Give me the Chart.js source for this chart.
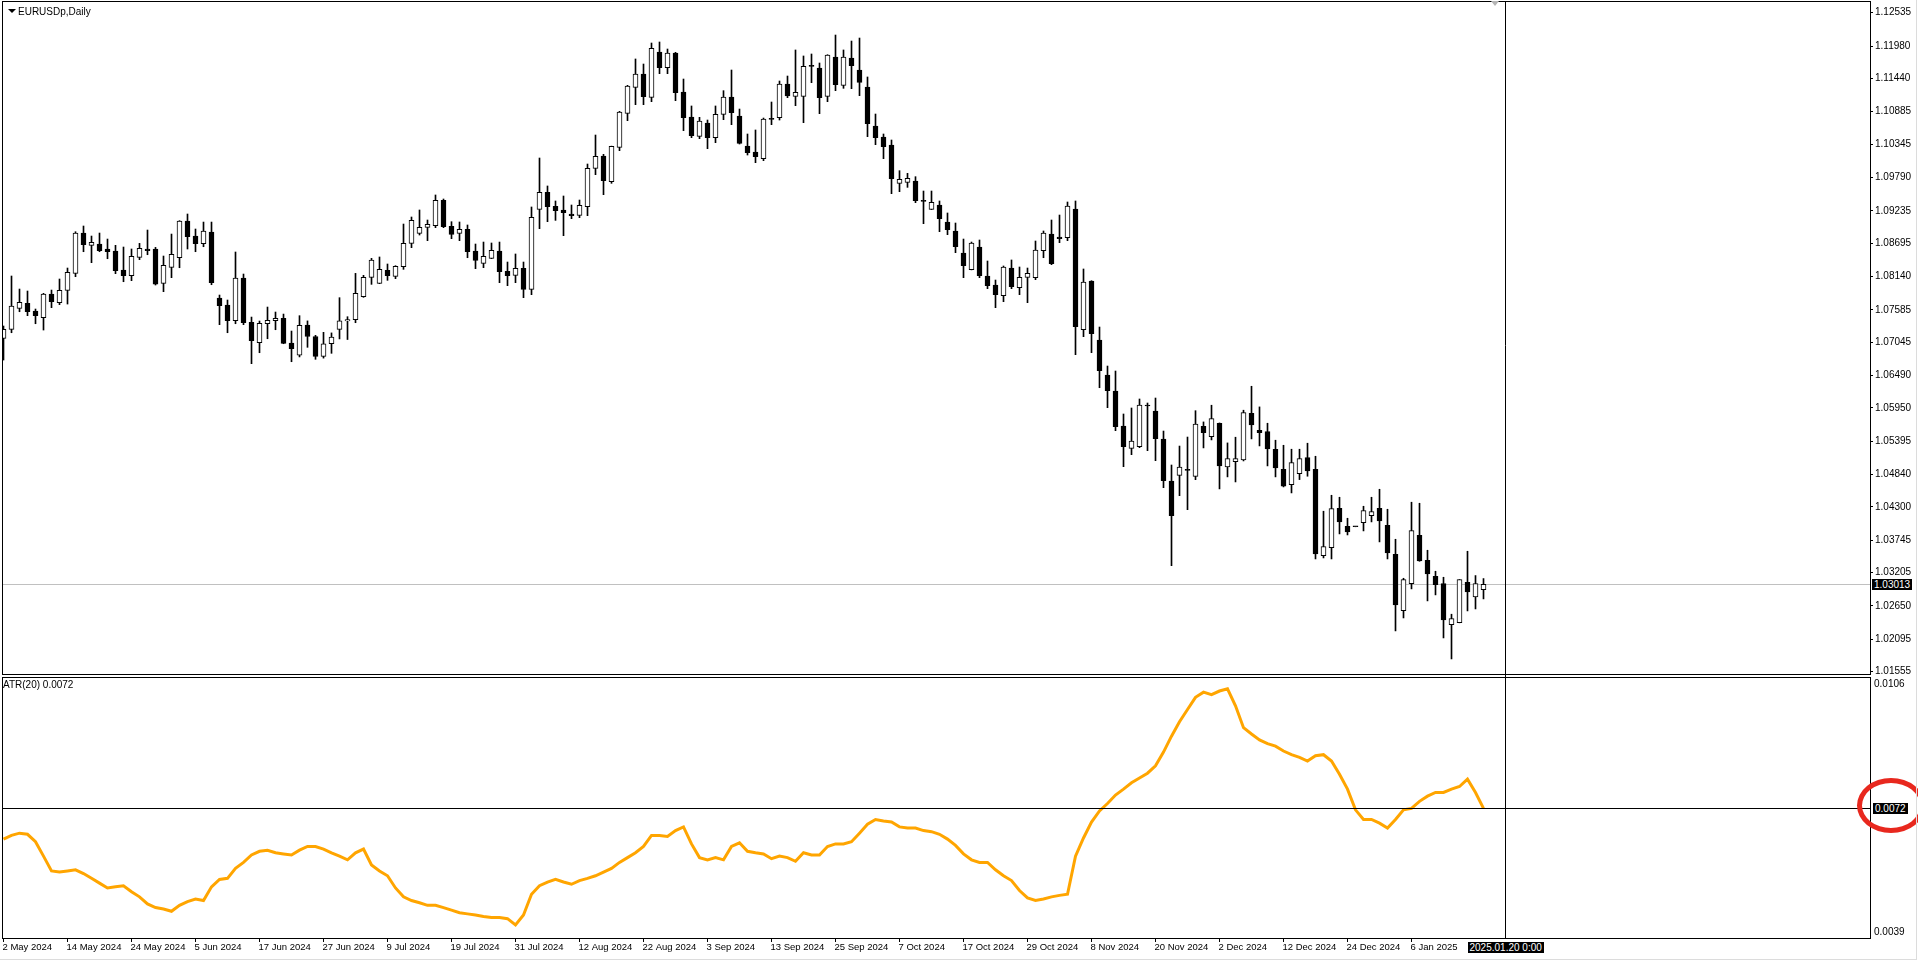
<!DOCTYPE html>
<html><head><meta charset="utf-8">
<script src="https://cdn.jsdelivr.net/npm/chart.js@4.4.1/dist/chart.umd.min.js"></script>
<style>
html,body{margin:0;padding:0;background:#fff;width:1918px;height:962px;overflow:hidden;position:relative;font-family:"Liberation Sans",Arial,sans-serif;}
canvas{position:absolute;left:0;}
#c1{top:0;}
#c2{top:677px;}
.frame{position:absolute;border:1px solid #000;box-sizing:border-box;pointer-events:none;}
.lbl{position:absolute;font-size:10px;line-height:12px;color:#000;white-space:nowrap;}
.box{position:absolute;background:#000;color:#fff;font-size:10px;line-height:11px;padding:0 2px;white-space:nowrap;}
</style></head><body>
<canvas id="c1" width="1918" height="690"></canvas>
<canvas id="c2" width="1918" height="285"></canvas>
<div class="frame" style="left:2px;top:1px;width:1869px;height:674px"></div>
<div class="frame" style="left:2px;top:677px;width:1869px;height:262px"></div>
<div style="position:absolute;left:8px;top:9px;width:0;height:0;border-left:4px solid transparent;border-right:4px solid transparent;border-top:4px solid #000"></div>
<div class="lbl" id="title" style="left:18px;top:6px"></div>
<div class="lbl" id="atrTitle" style="left:3px;top:679px"></div>
<div style="position:absolute;left:1491px;top:1px;width:0;height:0;border-left:4px solid transparent;border-right:4px solid transparent;border-top:5px solid #b4b4b4"></div>
<div id="plbl" class="box" style="left:1872px;top:578px"></div>
<div id="albl" class="box" style="left:1873px;top:802px"></div>
<div id="dlbl" class="box" style="left:1472px;top:942px"></div>
<div style="position:absolute;left:1857px;top:778px;width:68px;height:55px;border:5px solid #e8281e;border-radius:50%;box-sizing:border-box"></div>
<div style="position:absolute;left:1916px;top:0;width:1px;height:960px;background:#dcdcdc"></div>
<div style="position:absolute;left:0;top:959px;width:1917px;height:1px;background:#dcdcdc"></div>
<script>
const symbolTitle = "EURUSDp,Daily";
const atrName = "ATR(20)";
const priceTickLabels = ["1.12535","1.11980","1.11440","1.10885","1.10345","1.09790","1.09235","1.08695","1.08140","1.07585","1.07045","1.06490","1.05950","1.05395","1.04840","1.04300","1.03745","1.03205","1.02650","1.02095","1.01555"];
const atrTickLabels = ["0.0106","0.0039"];
const dateTickIdx = [0,8,16,24,32,40,48,56,64,72,80,88,96,104,112,120,128,136,144,152,160,168,176];
const dateLabels = ["2 May 2024","14 May 2024","24 May 2024","5 Jun 2024","17 Jun 2024","27 Jun 2024","9 Jul 2024","19 Jul 2024","31 Jul 2024","12 Aug 2024","22 Aug 2024","3 Sep 2024","13 Sep 2024","25 Sep 2024","7 Oct 2024","17 Oct 2024","29 Oct 2024","8 Nov 2024","20 Nov 2024","2 Dec 2024","12 Dec 2024","24 Dec 2024","6 Jan 2025"];
const crossDate = "2025.01.20 0:00";
const crossAtrLabel = "0.0072";
const crossAtrValue = 0.00726;
const crossIdx = 187.8;

const open = [1.07109,1.07259,1.07609,1.07692,1.07564,1.07453,1.07848,1.07703,1.07909,1.08192,
1.08864,1.08659,1.08681,1.08598,1.08564,1.08248,1.08153,1.08459,1.08598,1.08598,
1.08025,1.08292,1.08453,1.09064,1.08814,1.08686,1.08881,1.07781,1.07664,1.07403,
1.08114,1.07376,1.07037,1.07353,1.07403,1.07442,1.07031,1.06831,1.0733,1.0714,
1.0681,1.0702,1.0726,1.0740,1.0742,1.07804,1.08126,1.08026,1.08242,1.08142,
1.08303,1.08692,1.08859,1.08959,1.08987,1.09409,1.08975,1.08859,1.08926,1.08565,
1.08359,1.08442,1.08565,1.08226,1.08159,1.08276,1.07926,1.09259,1.09542,1.09309,
1.09248,1.09181,1.09159,1.09303,1.09942,1.10147,1.09720,1.10292,1.10858,1.11292,
1.11514,1.11125,1.11880,1.11619,1.11864,1.11214,1.10797,1.10475,1.10697,1.10453,
1.10842,1.11130,1.10814,1.10314,1.10214,1.10103,1.10758,1.10786,1.11347,1.11142,
1.11142,1.11641,1.11614,1.11142,1.11797,1.11325,1.11780,1.11580,1.11297,1.10647,
1.10464,1.10331,1.09692,1.09709,1.09731,1.09392,1.09259,1.09331,1.09048,1.08898,
1.08531,1.08253,1.08631,1.08148,1.07998,1.07820,1.08281,1.07954,1.08126,1.08120,
1.08570,1.08848,1.08798,1.08787,1.09264,1.07254,1.08065,1.07082,1.06498,1.06232,
1.05649,1.05277,1.05304,1.05982,1.05899,1.05432,1.04732,1.04827,1.04910,1.04810,
1.05645,1.05473,1.05695,1.04967,1.05056,1.05084,1.05862,1.05578,1.05556,1.05262,
1.04929,1.04673,1.04856,1.05123,1.04929,1.03490,1.03623,1.04279,1.03979,1.0397,
1.04040,1.04157,1.04279,1.03995,1.03512,1.02574,1.03023,1.03829,1.03412,1.03146,
1.03023,1.02340,1.02374,1.03046,1.02801,1.02924];
const high = [1.07315,1.08148,1.07931,1.07898,1.07598,1.07859,1.07914,1.08098,1.08281,1.08886,
1.08981,1.08814,1.08864,1.08764,1.08659,1.08631,1.08598,1.08692,1.08914,1.08625,
1.08481,1.08847,1.09070,1.09181,1.08931,1.09047,1.09047,1.07831,1.07748,1.08548,
1.08181,1.07464,1.07398,1.07631,1.07548,1.07514,1.07231,1.07487,1.0740,1.0716,
1.0721,1.0720,1.07787,1.0747,1.08192,1.08159,1.08442,1.08465,1.08348,1.08320,
1.09014,1.09131,1.09248,1.09081,1.09498,1.09431,1.09053,1.09048,1.08998,1.08681,
1.08714,1.08698,1.08714,1.08381,1.08515,1.08381,1.09298,1.10114,1.09648,1.09398,
1.09481,1.09331,1.09414,1.10014,1.10497,1.10175,1.10312,1.10892,1.11325,1.11764,
1.11680,1.12030,1.12047,1.11930,1.11875,1.11430,1.10981,1.10792,1.10747,1.10981,
1.11236,1.11580,1.10930,1.10514,1.10581,1.10780,1.11047,1.11397,1.11480,1.11914,
1.11814,1.11847,1.11697,1.11835,1.12163,1.11914,1.12063,1.12113,1.11464,1.10847,
1.10514,1.10414,1.09903,1.09859,1.09803,1.09564,1.09564,1.09398,1.09198,1.09031,
1.08764,1.08714,1.08748,1.08398,1.08081,1.08315,1.08415,1.08298,1.08281,1.08731,
1.08898,1.09081,1.09164,1.09381,1.09398,1.08265,1.08070,1.07298,1.06648,1.06565,
1.05849,1.05949,1.06099,1.06032,1.06115,1.05565,1.04999,1.05315,1.05465,1.05904,
1.05717,1.05995,1.05700,1.05367,1.05462,1.05912,1.06311,1.05967,1.05695,1.05412,
1.05328,1.05262,1.05262,1.05362,1.05145,1.04229,1.04495,1.04462,1.04112,1.0397,
1.04312,1.04462,1.04595,1.04262,1.03762,1.03112,1.04379,1.04362,1.03579,1.03229,
1.03129,1.02513,1.03090,1.03562,1.03157,1.03107];
const low = [1.06748,1.07203,1.07553,1.07487,1.07353,1.07248,1.07620,1.07670,1.07681,1.08137,
1.08553,1.08370,1.08553,1.08436,1.08187,1.08053,1.08070,1.08420,1.08503,1.07998,
1.07887,1.08120,1.08286,1.08598,1.08553,1.08636,1.08003,1.07337,1.07203,1.07353,
1.07337,1.06687,1.06870,1.07103,1.07253,1.07020,1.06720,1.06800,1.0696,1.0676,
1.0678,1.0686,1.0710,1.0709,1.0737,1.07793,1.08009,1.08020,1.08076,1.08104,
1.08259,1.08620,1.08831,1.08737,1.08953,1.08953,1.08770,1.08737,1.08453,1.08270,
1.08287,1.08437,1.08037,1.07987,1.08037,1.07787,1.07837,1.08937,1.09053,1.09075,
1.08820,1.09103,1.09120,1.09153,1.09836,1.09503,1.09692,1.10236,1.10736,1.11003,
1.11003,1.11053,1.11519,1.11519,1.11069,1.10570,1.10453,1.10436,1.10270,1.10370,
1.10753,1.10669,1.10347,1.10164,1.10036,1.10070,1.10669,1.10747,1.11119,1.10986,
1.10703,1.11369,1.10853,1.11053,1.11236,1.11275,1.11269,1.11153,1.10470,1.10336,
1.10103,1.09520,1.09553,1.09625,1.09370,1.09020,1.09255,1.08887,1.08837,1.08537,
1.08120,1.08250,1.08120,1.07937,1.07620,1.07720,1.07937,1.07837,1.07704,1.08087,
1.08453,1.08337,1.08703,1.08737,1.06837,1.07137,1.06871,1.06287,1.05954,1.05571,
1.04971,1.05171,1.05288,1.05238,1.05071,1.04621,1.03322,1.04488,1.04255,1.04755,
1.05284,1.05417,1.04601,1.04801,1.04717,1.05067,1.05434,1.05317,1.04984,1.04801,
1.04634,1.04534,1.04756,1.04812,1.03434,1.03451,1.03434,1.03851,1.03834,1.0397,
1.03901,1.04051,1.03718,1.03434,1.02235,1.02451,1.02935,1.03395,1.02735,1.02835,
1.02118,1.01768,1.02370,1.02568,1.02601,1.02768];
const close = [1.07259,1.07648,1.07709,1.07553,1.07487,1.07848,1.07720,1.07909,1.08209,1.08864,
1.08670,1.08709,1.08570,1.08553,1.08237,1.08153,1.08475,1.08609,1.08570,1.08014,
1.08325,1.08509,1.09064,1.08803,1.08686,1.08897,1.08037,1.07653,1.07403,1.08114,
1.07370,1.07070,1.07359,1.07409,1.07442,1.07026,1.06937,1.07326,1.0714,1.0681,
1.0702,1.0713,1.0740,1.0742,1.07859,1.08126,1.08415,1.08259,1.08153,1.08309,
1.08692,1.09075,1.08959,1.09009,1.09409,1.08970,1.08842,1.08926,1.08553,1.08409,
1.08476,1.08576,1.08220,1.08153,1.08276,1.07926,1.09125,1.09542,1.09303,1.09237,
1.09203,1.09153,1.09325,1.09942,1.10142,1.09736,1.10308,1.10881,1.11314,1.11514,
1.11136,1.11941,1.11619,1.11864,1.11203,1.10786,1.10486,1.10730,1.10453,1.10842,
1.11130,1.10869,1.10358,1.10203,1.10136,1.10764,1.10758,1.11347,1.11147,1.11208,
1.11641,1.11641,1.11119,1.11830,1.11336,1.11797,1.11652,1.11375,1.10686,1.10453,
1.10303,1.09770,1.09759,1.09775,1.09403,1.09392,1.09375,1.09103,1.08920,1.08637,
1.08320,1.08698,1.08153,1.07987,1.07837,1.08298,1.07970,1.08126,1.08192,1.08581,
1.08864,1.08353,1.08770,1.09314,1.07304,1.08048,1.07187,1.06571,1.06237,1.05638,
1.05304,1.05399,1.05999,1.05982,1.05438,1.04738,1.04155,1.04966,1.04910,1.05682,
1.05539,1.05773,1.04984,1.05106,1.05106,1.05873,1.05667,1.05539,1.05267,1.04951,
1.04645,1.05040,1.05106,1.04901,1.03518,1.03640,1.04273,1.04051,1.03884,1.0397,
1.04240,1.04223,1.04068,1.03534,1.02668,1.03090,1.03907,1.03401,1.03185,1.03007,
1.02418,1.02440,1.03090,1.02885,1.03023,1.03013];
const atr = [0.00641,0.00651,0.00657,0.00654,0.00634,0.00595,0.00555,0.00552,0.00555,0.00558,
0.00548,0.00535,0.00522,0.00509,0.00512,0.00515,0.00499,0.00485,0.00466,0.00456,
0.00452,0.00446,0.00462,0.00472,0.00479,0.00475,0.00512,0.00532,0.00535,0.00562,
0.00578,0.00598,0.00608,0.00611,0.00604,0.00601,0.00598,0.00611,0.00621,0.00621,
0.00614,0.00604,0.00595,0.00585,0.00604,0.00614,0.00571,0.00555,0.00542,0.00509,
0.00485,0.00475,0.00469,0.00462,0.00462,0.00456,0.00449,0.00442,0.00439,0.00436,
0.00432,0.00429,0.00429,0.00426,0.00409,0.00436,0.00492,0.00515,0.00525,0.00532,
0.00525,0.00519,0.00529,0.00535,0.00542,0.00552,0.00562,0.00578,0.00591,0.00604,
0.00621,0.00651,0.00651,0.00648,0.00664,0.00674,0.00628,0.00591,0.00585,0.00591,
0.00585,0.00621,0.00631,0.00608,0.00604,0.00601,0.00588,0.00595,0.00591,0.00581,
0.00604,0.00598,0.00598,0.00621,0.00628,0.00628,0.00634,0.00657,0.00681,0.00694,
0.00690,0.00687,0.00674,0.00671,0.00671,0.00664,0.00661,0.00654,0.00641,0.00624,
0.00601,0.00585,0.00578,0.00578,0.00558,0.00542,0.00529,0.00502,0.00482,0.00475,
0.00479,0.00485,0.00489,0.00492,0.00595,0.00644,0.00687,0.00717,0.00737,0.00760,
0.00776,0.00793,0.00806,0.00819,0.00839,0.00876,0.00919,0.00958,0.00991,0.01024,
0.01038,0.01031,0.01041,0.01047,0.01001,0.00942,0.00925,0.00909,0.00899,0.00892,
0.00879,0.00869,0.00862,0.00852,0.00866,0.00869,0.00852,0.00816,0.00776,0.00720,
0.00694,0.00694,0.00684,0.00671,0.00694,0.00720,0.00724,0.00743,0.00757,0.00767,
0.00767,0.00776,0.00783,0.00803,0.00767,0.00724];

const priceMin = 1.01517, priceMax = 1.12730;
const atrMin = 0.003738, atrMax = 0.010789;
const barMin = -0.1875, barMax = 233.3125;
const FONT = {family: "Liberation Sans", size: 10};
const lastClose = close[close.length - 1];

document.getElementById('title').textContent = symbolTitle;
document.getElementById('atrTitle').textContent = atrName + ' ' + atr[atr.length - 1].toFixed(4);
document.getElementById('plbl').textContent = lastClose.toFixed(5);
document.getElementById('albl').textContent = crossAtrLabel;
document.getElementById('dlbl').textContent = crossDate;

const bodies = open.map((o, i) => ({x: i, y: [o, close[i]]}));
const wicks = low.map((l, i) => ({x: i, y: [l, high[i]]}));

const pricePlugin = {
  id: 'pricePlugin',
  beforeDatasetsDraw(ch) {
    const {ctx, chartArea: a, scales: {y}} = ch;
    const py = Math.round(y.getPixelForValue(lastClose)) + 0.5;
    ctx.save();
    ctx.strokeStyle = '#c0c0c0'; ctx.lineWidth = 1;
    ctx.beginPath(); ctx.moveTo(a.left, py); ctx.lineTo(a.right, py); ctx.stroke();
    ctx.restore();
    document.getElementById('plbl').style.top = (py - 6) + 'px';
  },
  afterDraw(ch) {
    const {ctx, chartArea: a, scales: {x}} = ch;
    const px = Math.floor(x.getPixelForValue(crossIdx)) + 0.5;
    ctx.save();
    ctx.strokeStyle = '#000'; ctx.lineWidth = 1;
    ctx.beginPath(); ctx.moveTo(px, a.top); ctx.lineTo(px, ch.height); ctx.stroke();
    ctx.restore();
  }
};

const atrPlugin = {
  id: 'atrPlugin',
  afterDraw(ch) {
    const {ctx, chartArea: a, scales: {x, y}} = ch;
    const px = Math.floor(x.getPixelForValue(crossIdx)) + 0.5;
    const py = Math.round(y.getPixelForValue(crossAtrValue)) + 0.5;
    ctx.save();
    ctx.strokeStyle = '#000'; ctx.lineWidth = 1;
    ctx.beginPath(); ctx.moveTo(px, a.top); ctx.lineTo(px, a.bottom); ctx.stroke();
    ctx.beginPath(); ctx.moveTo(a.left, py); ctx.lineTo(a.right, py); ctx.stroke();
    ctx.restore();
    const top = ch.canvas.offsetTop;
    const al = document.getElementById('albl');
    al.style.top = (top + py - 6) + 'px';
    const dl = document.getElementById('dlbl');
    dl.style.left = (px - dl.offsetWidth / 2) + 'px';
  }
};

new Chart(document.getElementById('c1'), {
  type: 'bar',
  data: {datasets: [
    {data: bodies, grouped: false, barThickness: 5, minBarLength: 1, borderWidth: 1, borderColor: '#000', borderSkipped: false,
     backgroundColor: c => (c.raw && c.raw.y[1] > c.raw.y[0]) ? '#ffffff' : '#000000', order: 1},
    {data: wicks, grouped: false, barThickness: 1, backgroundColor: '#000', borderWidth: 0, order: 2}
  ]},
  options: {
    responsive: false, animation: false, events: [],
    layout: {padding: {left: 2, top: 1, right: 0, bottom: 16}},
    plugins: {legend: {display: false}, tooltip: {enabled: false}},
    scales: {
      x: {type: 'linear', display: false, min: barMin, max: barMax, offset: false},
      y: {type: 'linear', position: 'right', min: priceMin, max: priceMax, beginAtZero: false,
          afterBuildTicks: s => { s.ticks = priceTickLabels.map(t => ({value: parseFloat(t)})); },
          afterFit: s => { s.width = 48; s.paddingTop = 0; s.paddingBottom = 0; },
          ticks: {autoSkip: false, padding: 2, color: '#000', font: FONT, callback: (v, i) => priceTickLabels[i]},
          grid: {drawOnChartArea: false, drawTicks: true, tickLength: 3, color: '#000'},
          border: {display: false}}
    }
  },
  plugins: [pricePlugin]
});

new Chart(document.getElementById('c2'), {
  type: 'line',
  data: {datasets: [{data: atr.map((v, i) => ({x: i, y: v})), borderColor: '#FFA500', borderWidth: 3,
    pointRadius: 0, tension: 0, fill: false}]},
  options: {
    responsive: false, animation: false, events: [],
    layout: {padding: {left: 2, top: 0, right: 0, bottom: 0}},
    plugins: {legend: {display: false}, tooltip: {enabled: false}},
    scales: {
      x: {type: 'linear', position: 'bottom', min: barMin, max: barMax, offset: false,
          afterBuildTicks: s => { s.ticks = dateTickIdx.map(v => ({value: v})); },
          afterFit: s => { s.height = 24; s.paddingLeft = 0; s.paddingRight = 0; },
          ticks: {autoSkip: false, maxRotation: 0, minRotation: 0, align: 'start', padding: 0, labelOffset: -1,
                  color: '#000', font: {family: "Liberation Sans", size: 9.5}, callback: (v, i) => dateLabels[i]},
          grid: {drawOnChartArea: false, drawTicks: true, tickLength: 4, color: '#000'},
          border: {display: false}},
      y: {type: 'linear', position: 'right', min: atrMin, max: atrMax, beginAtZero: false,
          afterBuildTicks: s => { s.ticks = atrTickLabels.map(t => ({value: parseFloat(t)})); },
          afterFit: s => { s.width = 48; s.paddingTop = 0; s.paddingBottom = 0; },
          ticks: {autoSkip: false, padding: 4, color: '#000', font: FONT, callback: (v, i) => atrTickLabels[i]},
          grid: {drawOnChartArea: false, drawTicks: false, color: '#000'},
          border: {display: false}}
    }
  },
  plugins: [atrPlugin]
});
</script>
</body></html>
